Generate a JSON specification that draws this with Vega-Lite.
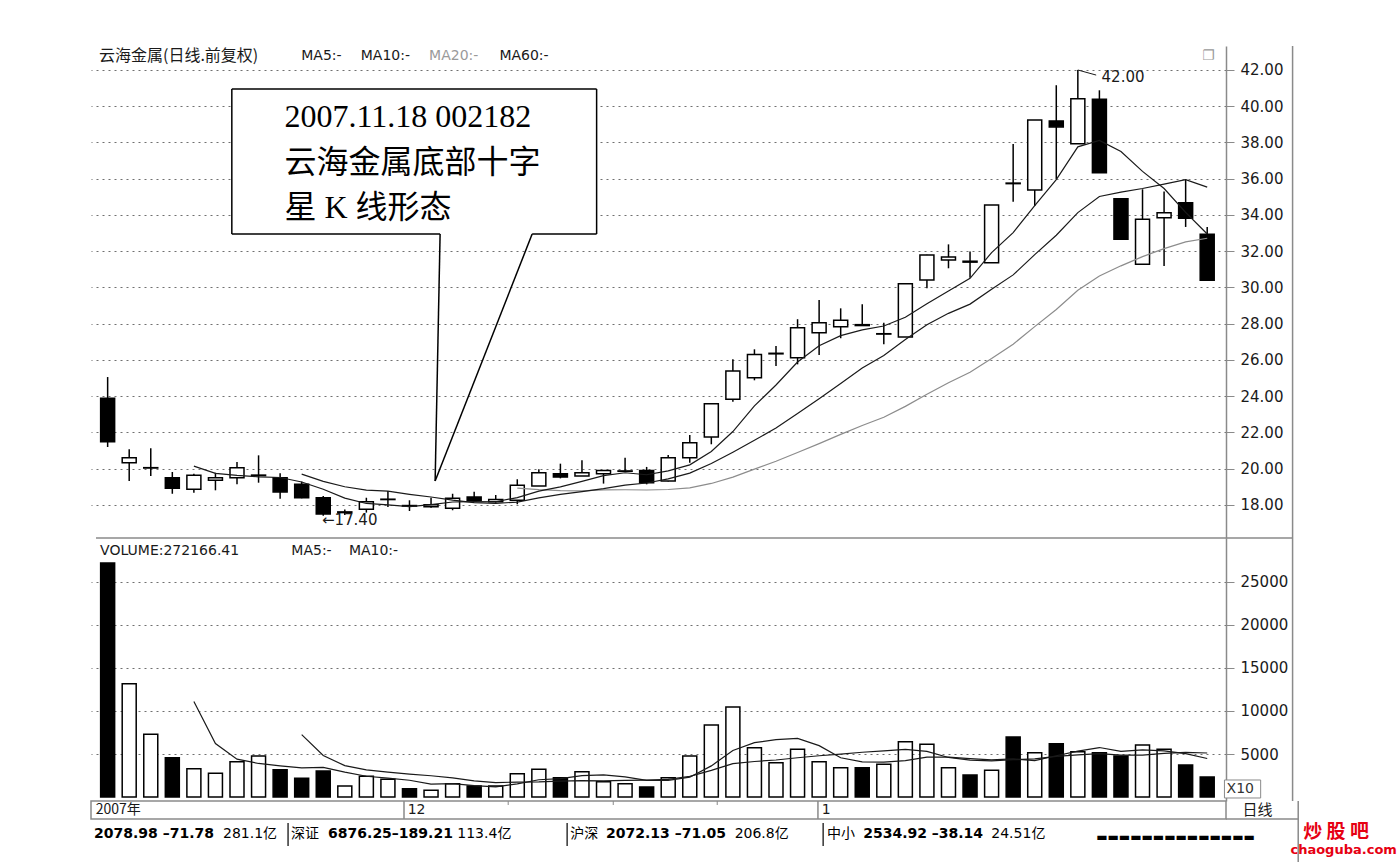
{
"$schema": "https://vega.github.io/schema/vega-lite/v6.json",
"background": "white",
"padding": {"left": 90, "top": 45, "right": 0, "bottom": 0},
"spacing": 0,
"bounds": "flush",
"config": {"view": {"stroke": null}, "text": {"font": "DejaVu Sans"}},
"datasets": {
"k": [
{"day":0,"open":23.89,"high":25.06,"low":21.20,"close":21.49,"volume":27217},
{"day":1,"open":20.33,"high":21.07,"low":19.32,"close":20.61,"volume":13178},
{"day":2,"open":20.04,"high":21.13,"low":19.60,"close":20.06,"volume":7287},
{"day":3,"open":19.51,"high":19.82,"low":18.62,"close":18.92,"volume":4574},
{"day":4,"open":18.87,"high":19.73,"low":18.68,"close":19.64,"volume":3295},
{"day":5,"open":19.36,"high":19.78,"low":18.81,"close":19.51,"volume":2752},
{"day":6,"open":19.51,"high":20.37,"low":19.14,"close":20.06,"volume":4109},
{"day":7,"open":19.62,"high":20.74,"low":19.23,"close":19.65,"volume":4767},
{"day":8,"open":19.51,"high":19.75,"low":18.35,"close":18.72,"volume":3178},
{"day":9,"open":19.14,"high":19.29,"low":18.37,"close":18.40,"volume":2170},
{"day":10,"open":18.40,"high":18.50,"low":17.40,"close":17.50,"volume":3023},
{"day":11,"open":17.58,"high":17.75,"low":17.45,"close":17.62,"volume":1279},
{"day":12,"open":17.76,"high":18.40,"low":17.58,"close":18.18,"volume":2403},
{"day":13,"open":18.30,"high":18.77,"low":17.89,"close":18.32,"volume":2054},
{"day":14,"open":17.97,"high":18.26,"low":17.67,"close":17.94,"volume":969},
{"day":15,"open":17.90,"high":18.40,"low":17.85,"close":18.02,"volume":775},
{"day":16,"open":17.82,"high":18.62,"low":17.71,"close":18.37,"volume":1550},
{"day":17,"open":18.44,"high":18.73,"low":18.18,"close":18.26,"volume":1279},
{"day":18,"open":18.18,"high":18.55,"low":18.13,"close":18.31,"volume":1279},
{"day":19,"open":18.26,"high":19.42,"low":18.04,"close":19.09,"volume":2713},
{"day":20,"open":19.05,"high":19.97,"low":19.05,"close":19.78,"volume":3217},
{"day":21,"open":19.73,"high":20.28,"low":19.47,"close":19.54,"volume":2248},
{"day":22,"open":19.60,"high":20.47,"low":19.60,"close":19.78,"volume":2946},
{"day":23,"open":19.73,"high":19.91,"low":19.18,"close":19.91,"volume":1783},
{"day":24,"open":19.86,"high":20.61,"low":19.86,"close":19.88,"volume":1550},
{"day":25,"open":19.91,"high":20.10,"low":19.14,"close":19.23,"volume":1163},
{"day":26,"open":19.32,"high":20.76,"low":19.30,"close":20.61,"volume":2248},
{"day":27,"open":20.61,"high":21.86,"low":20.33,"close":21.44,"volume":4767},
{"day":28,"open":21.75,"high":23.59,"low":21.35,"close":23.59,"volume":8372},
{"day":29,"open":23.83,"high":26.04,"low":23.70,"close":25.39,"volume":10465},
{"day":30,"open":25.02,"high":26.59,"low":24.88,"close":26.31,"volume":5736},
{"day":31,"open":26.34,"high":26.77,"low":25.67,"close":26.37,"volume":3992},
{"day":32,"open":26.13,"high":28.25,"low":25.76,"close":27.78,"volume":5543},
{"day":33,"open":27.51,"high":29.31,"low":26.28,"close":28.06,"volume":4109},
{"day":34,"open":27.84,"high":28.85,"low":27.20,"close":28.19,"volume":3411},
{"day":35,"open":27.95,"high":29.07,"low":27.90,"close":27.90,"volume":3411},
{"day":36,"open":27.43,"high":28.06,"low":26.87,"close":27.45,"volume":3798},
{"day":37,"open":27.27,"high":30.21,"low":27.27,"close":30.21,"volume":6434},
{"day":38,"open":30.41,"high":31.80,"low":29.96,"close":31.79,"volume":6124},
{"day":39,"open":31.52,"high":32.38,"low":31.06,"close":31.68,"volume":3411},
{"day":40,"open":31.45,"high":31.98,"low":30.54,"close":31.40,"volume":2558},
{"day":41,"open":31.37,"high":34.55,"low":31.37,"close":34.55,"volume":3101},
{"day":42,"open":35.76,"high":37.92,"low":34.73,"close":35.73,"volume":6977},
{"day":43,"open":35.38,"high":39.24,"low":34.50,"close":39.24,"volume":5155},
{"day":44,"open":39.19,"high":41.16,"low":35.97,"close":38.86,"volume":6202},
{"day":45,"open":37.93,"high":42.00,"low":37.93,"close":40.42,"volume":5271},
{"day":46,"open":40.38,"high":40.88,"low":36.33,"close":36.33,"volume":5155},
{"day":47,"open":34.90,"high":34.90,"low":32.66,"close":32.66,"volume":4767},
{"day":48,"open":31.28,"high":35.42,"low":31.28,"close":33.76,"volume":6047},
{"day":49,"open":33.85,"high":35.29,"low":31.19,"close":34.13,"volume":5543},
{"day":50,"open":34.68,"high":35.97,"low":33.34,"close":33.82,"volume":3721},
{"day":51,"open":32.94,"high":33.34,"low":30.40,"close":30.40,"volume":2326}
],
"one": [{}]
},
"vconcat": [
{
"width": 1135, "height": 492,
"layer": [
{"data": {"name": "k"}, "mark": {"type": "rule", "color": "black", "strokeWidth": 1.5},
 "encoding": {
  "x": {"field": "day", "type": "quantitative", "scale": {"domain": [-0.54, 51.64], "nice": false, "zero": false}, "axis": null},
  "y": {"field": "low", "type": "quantitative", "scale": {"domain": [16.179, 43.324], "nice": false, "zero": false},
   "axis": {"orient": "right", "title": null, "tickCount": 500, "values": [18,20,22,24,26,28,30,32,34,36,38,40,42],
    "format": ".2f",
    "labelOverlap": false, "labelFlush": false, "labelFont": "DejaVu Sans", "labelFontSize": 15, "labelColor": "#1a1a1a", "labelPadding": 6,
    "domainColor": "#8a8a8a", "domainWidth": 1.5, "tickColor": "#8a8a8a", "tickWidth": 1, "tickSize": 8,
    "grid": true, "gridDash": [2, 4], "gridWidth": 1, "gridColor": "#707070", "gridOpacity": 1}},
  "y2": {"field": "high"}}},
{"data": {"name": "k"}, "mark": {"type": "bar", "width": 14, "stroke": "black", "strokeWidth": 1.5},
 "encoding": {
  "x": {"field": "day", "type": "quantitative", "axis": null},
  "y": {"field": "open", "type": "quantitative", "title": null},
  "y2": {"field": "close"},
  "fill": {"condition": {"test": "datum.close < datum.open", "value": "black"}, "value": "white"}}},
{"data": {"name": "k"},
 "transform": [{"window": [{"op": "mean", "field": "close", "as": "ma20"}, {"op": "count", "as": "n20"}], "frame": [-19, 0], "sort": [{"field": "day"}]}, {"filter": "datum.n20 == 20"}],
 "mark": {"type": "line", "color": "#8c8c8c", "strokeWidth": 1.2},
 "encoding": {"x": {"field": "day", "type": "quantitative", "axis": null}, "y": {"field": "ma20", "type": "quantitative", "title": null}}},
{"data": {"name": "k"},
 "transform": [{"window": [{"op": "mean", "field": "close", "as": "ma10"}, {"op": "count", "as": "n10"}], "frame": [-9, 0], "sort": [{"field": "day"}]}, {"filter": "datum.n10 == 10"}],
 "mark": {"type": "line", "color": "#1a1a1a", "strokeWidth": 1.2},
 "encoding": {"x": {"field": "day", "type": "quantitative", "axis": null}, "y": {"field": "ma10", "type": "quantitative", "title": null}}},
{"data": {"name": "k"},
 "transform": [{"window": [{"op": "mean", "field": "close", "as": "ma5"}, {"op": "count", "as": "n5"}], "frame": [-4, 0], "sort": [{"field": "day"}]}, {"filter": "datum.n5 == 5"}],
 "mark": {"type": "line", "color": "#1a1a1a", "strokeWidth": 1.2},
 "encoding": {"x": {"field": "day", "type": "quantitative", "axis": null}, "y": {"field": "ma5", "type": "quantitative", "title": null}}},
{"data": {"name": "one"}, "mark": {"type": "text", "text": "←17.40", "align": "left", "baseline": "middle", "fontSize": 15, "color": "#1a1a1a"},
 "encoding": {"x": {"datum": 9.94, "type": "quantitative", "axis": null}, "y": {"datum": 17.17, "type": "quantitative", "title": null}}},
{"data": {"name": "one"}, "mark": {"type": "rule", "color": "#1a1a1a", "strokeWidth": 1},
 "encoding": {"x": {"datum": 45, "type": "quantitative", "axis": null}, "y": {"datum": 42.0, "type": "quantitative", "title": null}, "x2": {"datum": 45.85}, "y2": {"datum": 41.72}}},
{"data": {"name": "one"}, "mark": {"type": "text", "text": "42.00", "align": "left", "baseline": "middle", "fontSize": 15, "color": "#1a1a1a"},
 "encoding": {"x": {"datum": 46.1, "type": "quantitative", "axis": null}, "y": {"datum": 41.62, "type": "quantitative", "title": null}}},
{"data": {"name": "one"}, "mark": {"type": "text", "text": "云海金属(日线.前复权)", "align": "left", "baseline": "middle", "font": "Noto Sans CJK SC", "fontSize": 16, "color": "#1a1a1a"},
 "encoding": {"x": {"datum": -0.4, "type": "quantitative", "axis": null}, "y": {"datum": 42.77, "type": "quantitative", "title": null}}},
{"data": {"name": "one"}, "mark": {"type": "text", "text": "MA5:-", "align": "left", "baseline": "middle", "fontSize": 14, "color": "#1a1a1a"},
 "encoding": {"x": {"datum": 8.98, "type": "quantitative", "axis": null}, "y": {"datum": 42.77, "type": "quantitative", "title": null}}},
{"data": {"name": "one"}, "mark": {"type": "text", "text": "MA10:-", "align": "left", "baseline": "middle", "fontSize": 14, "color": "#1a1a1a"},
 "encoding": {"x": {"datum": 11.74, "type": "quantitative", "axis": null}, "y": {"datum": 42.77, "type": "quantitative", "title": null}}},
{"data": {"name": "one"}, "mark": {"type": "text", "text": "MA20:-", "align": "left", "baseline": "middle", "fontSize": 14, "color": "#9a9a9a"},
 "encoding": {"x": {"datum": 14.91, "type": "quantitative", "axis": null}, "y": {"datum": 42.77, "type": "quantitative", "title": null}}},
{"data": {"name": "one"}, "mark": {"type": "text", "text": "MA60:-", "align": "left", "baseline": "middle", "fontSize": 14, "color": "#1a1a1a"},
 "encoding": {"x": {"datum": 18.17, "type": "quantitative", "axis": null}, "y": {"datum": 42.77, "type": "quantitative", "title": null}}},
{"data": {"name": "one"}, "mark": {"type": "text", "text": "❐", "align": "center", "baseline": "middle", "fontSize": 14, "color": "#9a9a9a"},
 "encoding": {"x": {"datum": 51.06, "type": "quantitative", "axis": null}, "y": {"datum": 42.77, "type": "quantitative", "title": null}}},
{"data": {"name": "one"}, "mark": {"type": "rect", "fill": "white"},
 "encoding": {"x": {"datum": 5.76, "type": "quantitative", "axis": null}, "x2": {"datum": 22.68}, "y": {"datum": 40.95, "type": "quantitative", "title": null}, "y2": {"datum": 32.95}}},
{"data": {"name": "one"}, "mark": {"type": "rule", "color": "black", "strokeWidth": 1.5},
 "encoding": {"x": {"datum": 5.76, "type": "quantitative", "axis": null}, "x2": {"datum": 22.68}, "y": {"datum": 40.95, "type": "quantitative", "title": null}, "y2": {"datum": 40.95}}},
{"data": {"name": "one"}, "mark": {"type": "rule", "color": "black", "strokeWidth": 1.5},
 "encoding": {"x": {"datum": 22.68, "type": "quantitative", "axis": null}, "x2": {"datum": 22.68}, "y": {"datum": 40.95, "type": "quantitative", "title": null}, "y2": {"datum": 32.95}}},
{"data": {"name": "one"}, "mark": {"type": "rule", "color": "black", "strokeWidth": 1.5},
 "encoding": {"x": {"datum": 22.68, "type": "quantitative", "axis": null}, "x2": {"datum": 19.69}, "y": {"datum": 32.95, "type": "quantitative", "title": null}, "y2": {"datum": 32.95}}},
{"data": {"name": "one"}, "mark": {"type": "rule", "color": "black", "strokeWidth": 1.5},
 "encoding": {"x": {"datum": 19.69, "type": "quantitative", "axis": null}, "x2": {"datum": 15.19}, "y": {"datum": 32.95, "type": "quantitative", "title": null}, "y2": {"datum": 19.32}}},
{"data": {"name": "one"}, "mark": {"type": "rule", "color": "black", "strokeWidth": 1.5},
 "encoding": {"x": {"datum": 15.42, "type": "quantitative", "axis": null}, "x2": {"datum": 15.19}, "y": {"datum": 32.95, "type": "quantitative", "title": null}, "y2": {"datum": 19.32}}},
{"data": {"name": "one"}, "mark": {"type": "rule", "color": "black", "strokeWidth": 1.5},
 "encoding": {"x": {"datum": 15.42, "type": "quantitative", "axis": null}, "x2": {"datum": 5.76}, "y": {"datum": 32.95, "type": "quantitative", "title": null}, "y2": {"datum": 32.95}}},
{"data": {"name": "one"}, "mark": {"type": "rule", "color": "black", "strokeWidth": 1.5},
 "encoding": {"x": {"datum": 5.76, "type": "quantitative", "axis": null}, "x2": {"datum": 5.76}, "y": {"datum": 32.95, "type": "quantitative", "title": null}, "y2": {"datum": 40.95}}},
{"data": {"name": "one"}, "mark": {"type": "text", "text": "2007.11.18 002182", "align": "left", "baseline": "middle", "font": "Liberation Serif, Noto Sans CJK SC", "fontSize": 32, "color": "black"},
 "encoding": {"x": {"datum": 8.2, "type": "quantitative", "axis": null}, "y": {"datum": 39.41, "type": "quantitative", "title": null}}},
{"data": {"name": "one"}, "mark": {"type": "text", "text": "云海金属底部十字", "align": "left", "baseline": "middle", "font": "Liberation Serif, Noto Sans CJK SC", "fontSize": 32, "color": "black"},
 "encoding": {"x": {"datum": 8.2, "type": "quantitative", "axis": null}, "y": {"datum": 36.87, "type": "quantitative", "title": null}}},
{"data": {"name": "one"}, "mark": {"type": "text", "text": "星 K 线形态", "align": "left", "baseline": "middle", "font": "Liberation Serif, Noto Sans CJK SC", "fontSize": 32, "color": "black"},
 "encoding": {"x": {"datum": 8.2, "type": "quantitative", "axis": null}, "y": {"datum": 34.39, "type": "quantitative", "title": null}}},
{"data": {"name": "one"}, "mark": {"type": "rule", "color": "#8a8a8a", "strokeWidth": 1.5},
 "encoding": {"x": {"datum": -0.54, "type": "quantitative", "axis": null}, "x2": {"datum": 54.96}, "y": {"datum": 16.179, "type": "quantitative", "title": null}, "y2": {"datum": 16.179}}},
{"data": {"name": "one"}, "mark": {"type": "rule", "color": "#8a8a8a", "strokeWidth": 1.5},
 "encoding": {"x": {"datum": 54.96, "type": "quantitative", "axis": null}}}
]
},
{
"width": 1135, "height": 263,
"layer": [
{"data": {"name": "k"}, "mark": {"type": "bar", "width": 14, "stroke": "black", "strokeWidth": 1.5},
 "encoding": {
  "x": {"field": "day", "type": "quantitative", "scale": {"domain": [-0.54, 51.64], "nice": false, "zero": false}, "axis": null},
  "y": {"field": "volume", "type": "quantitative", "scale": {"domain": [-465, 30116], "nice": false, "zero": false},
   "axis": {"orient": "right", "title": null, "tickCount": 500, "values": [5000,10000,15000,20000,25000],
    "format": "d",
    "labelOverlap": false, "labelFlush": false, "labelFont": "DejaVu Sans", "labelFontSize": 15, "labelColor": "#1a1a1a", "labelPadding": 6,
    "domainColor": "#8a8a8a", "domainWidth": 1.5, "tickColor": "#8a8a8a", "tickWidth": 1, "tickSize": 8,
    "grid": true, "gridDash": [2, 4], "gridWidth": 1, "gridColor": "#707070", "gridOpacity": 1}},
  "y2": {"datum": 0},
  "fill": {"condition": {"test": "datum.close < datum.open", "value": "black"}, "value": "white"}}},
{"data": {"name": "k"},
 "transform": [{"window": [{"op": "mean", "field": "volume", "as": "vma10"}, {"op": "count", "as": "n10"}], "frame": [-9, 0], "sort": [{"field": "day"}]}, {"filter": "datum.n10 == 10"}],
 "mark": {"type": "line", "color": "#1a1a1a", "strokeWidth": 1.2},
 "encoding": {"x": {"field": "day", "type": "quantitative", "axis": null}, "y": {"field": "vma10", "type": "quantitative", "title": null}}},
{"data": {"name": "k"},
 "transform": [{"window": [{"op": "mean", "field": "volume", "as": "vma5"}, {"op": "count", "as": "n5"}], "frame": [-4, 0], "sort": [{"field": "day"}]}, {"filter": "datum.n5 == 5"}],
 "mark": {"type": "line", "color": "#1a1a1a", "strokeWidth": 1.2},
 "encoding": {"x": {"field": "day", "type": "quantitative", "axis": null}, "y": {"field": "vma5", "type": "quantitative", "title": null}}},
{"data": {"name": "one"}, "mark": {"type": "text", "text": "VOLUME:272166.41", "align": "left", "baseline": "middle", "fontSize": 14, "color": "#1a1a1a"},
 "encoding": {"x": {"datum": -0.35, "type": "quantitative", "axis": null}, "y": {"datum": 28605, "type": "quantitative", "title": null}}},
{"data": {"name": "one"}, "mark": {"type": "text", "text": "MA5:-", "align": "left", "baseline": "middle", "fontSize": 14, "color": "#1a1a1a"},
 "encoding": {"x": {"datum": 8.52, "type": "quantitative", "axis": null}, "y": {"datum": 28605, "type": "quantitative", "title": null}}},
{"data": {"name": "one"}, "mark": {"type": "text", "text": "MA10:-", "align": "left", "baseline": "middle", "fontSize": 14, "color": "#1a1a1a"},
 "encoding": {"x": {"datum": 11.19, "type": "quantitative", "axis": null}, "y": {"datum": 28605, "type": "quantitative", "title": null}}},
{"data": {"name": "one"}, "mark": {"type": "rect", "fill": "white", "stroke": "#8a8a8a", "strokeWidth": 1},
 "encoding": {"x": {"datum": 51.8, "type": "quantitative", "axis": null}, "x2": {"datum": 53.48}, "y": {"datum": -116, "type": "quantitative", "title": null}, "y2": {"datum": 1977}}},
{"data": {"name": "one"}, "mark": {"type": "text", "text": "X10", "align": "left", "baseline": "middle", "fontSize": 14, "color": "#333333"},
 "encoding": {"x": {"datum": 51.9, "type": "quantitative", "axis": null}, "y": {"datum": 930, "type": "quantitative", "title": null}}},
{"data": {"name": "one"}, "mark": {"type": "rule", "color": "#8a8a8a", "strokeWidth": 1.5},
 "encoding": {"x": {"datum": 54.96, "type": "quantitative", "axis": null}}}
]
},
{
"width": 1135, "height": 18,
"view": {"stroke": "#8a8a8a", "strokeWidth": 1.5},
"layer": [
{"data": {"name": "one"}, "mark": {"type": "rule", "color": "#8a8a8a", "strokeWidth": 1.5},
 "encoding": {"x": {"datum": 13.85, "type": "quantitative", "scale": {"domain": [-0.54, 51.64], "nice": false, "zero": false}, "axis": null}}},
{"data": {"name": "one"}, "mark": {"type": "rule", "color": "#8a8a8a", "strokeWidth": 1.5},
 "encoding": {"x": {"datum": 32.88, "type": "quantitative", "axis": null}}},
{"data": {"name": "one"}, "mark": {"type": "rule", "color": "#8a8a8a", "strokeWidth": 1.5},
 "encoding": {"x": {"datum": 54.96, "type": "quantitative", "axis": null}}},
{"data": {"name": "one"}, "mark": {"type": "rule", "color": "#8a8a8a", "strokeWidth": 1},
 "encoding": {"x": {"datum": 18.64, "type": "quantitative", "axis": null}, "y": {"datum": 18, "type": "quantitative", "scale": {"domain": [0, 18], "nice": false, "zero": false}, "axis": null}, "y2": {"datum": 14}}},
{"data": {"name": "one"}, "mark": {"type": "rule", "color": "#8a8a8a", "strokeWidth": 1},
 "encoding": {"x": {"datum": 23.47, "type": "quantitative", "axis": null}, "y": {"datum": 18, "type": "quantitative", "axis": null}, "y2": {"datum": 14}}},
{"data": {"name": "one"}, "mark": {"type": "rule", "color": "#8a8a8a", "strokeWidth": 1},
 "encoding": {"x": {"datum": 28.25, "type": "quantitative", "axis": null}, "y": {"datum": 18, "type": "quantitative", "axis": null}, "y2": {"datum": 14}}},
{"data": {"name": "one"}, "mark": {"type": "rule", "color": "#8a8a8a", "strokeWidth": 1.5},
 "encoding": {"x": {"datum": 51.64, "type": "quantitative", "axis": null}, "x2": {"datum": 54.96}, "y": {"datum": 0, "type": "quantitative", "axis": null}, "y2": {"datum": 0}}},
{"data": {"name": "one"}, "mark": {"type": "text", "text": "2007年", "align": "left", "baseline": "middle", "font": "Noto Sans CJK SC", "fontSize": 14, "color": "#1a1a1a"},
 "encoding": {"x": {"datum": -0.32, "type": "quantitative", "axis": null}, "y": {"datum": 9, "type": "quantitative", "axis": null}}},
{"data": {"name": "one"}, "mark": {"type": "text", "text": "12", "align": "left", "baseline": "middle", "fontSize": 14, "color": "#1a1a1a"},
 "encoding": {"x": {"datum": 14.02, "type": "quantitative", "axis": null}, "y": {"datum": 9, "type": "quantitative", "axis": null}}},
{"data": {"name": "one"}, "mark": {"type": "text", "text": "1", "align": "left", "baseline": "middle", "fontSize": 14, "color": "#1a1a1a"},
 "encoding": {"x": {"datum": 33.05, "type": "quantitative", "axis": null}, "y": {"datum": 9, "type": "quantitative", "axis": null}}},
{"data": {"name": "one"}, "mark": {"type": "text", "text": "日线", "align": "left", "baseline": "middle", "font": "Noto Sans CJK SC", "fontSize": 15, "color": "#1a1a1a"},
 "encoding": {"x": {"datum": 52.4, "type": "quantitative", "axis": null}, "y": {"datum": 9, "type": "quantitative", "axis": null}}}
]
},
{
"width": 1135, "height": 44,
"layer": [
{"data": {"name": "one"}, "mark": {"type": "rule", "color": "#8a8a8a", "strokeWidth": 1.5},
 "encoding": {"x": {"datum": 54.96, "type": "quantitative", "scale": {"domain": [-0.54, 51.64], "nice": false, "zero": false}, "axis": null}}},
{"data": {"name": "one"}, "mark": {"type": "text", "text": "2078.98 –71.78", "align": "left", "baseline": "middle", "fontSize": 14, "fontWeight": "bold", "color": "black"},
 "encoding": {"x": {"datum": -0.4, "type": "quantitative", "axis": null}, "y": {"datum": 29, "type": "quantitative", "scale": {"domain": [0, 44], "nice": false, "zero": false}, "axis": null}}},
{"data": {"name": "one"}, "mark": {"type": "text", "text": "281.1亿", "align": "left", "baseline": "middle", "font": "DejaVu Sans, Noto Sans CJK SC", "fontSize": 14, "color": "black"},
 "encoding": {"x": {"datum": 5.53, "type": "quantitative", "axis": null}, "y": {"datum": 29, "type": "quantitative", "axis": null}}},
{"data": {"name": "one"}, "mark": {"type": "rule", "color": "#333333", "strokeWidth": 1.5},
 "encoding": {"x": {"datum": 8.52, "type": "quantitative", "axis": null}, "y": {"datum": 40, "type": "quantitative", "axis": null}, "y2": {"datum": 17}}},
{"data": {"name": "one"}, "mark": {"type": "text", "text": "深证", "align": "left", "baseline": "middle", "font": "Noto Sans CJK SC", "fontSize": 14, "color": "black"},
 "encoding": {"x": {"datum": 8.66, "type": "quantitative", "axis": null}, "y": {"datum": 29, "type": "quantitative", "axis": null}}},
{"data": {"name": "one"}, "mark": {"type": "text", "text": "6876.25–189.21", "align": "left", "baseline": "middle", "fontSize": 14, "fontWeight": "bold", "color": "black"},
 "encoding": {"x": {"datum": 10.36, "type": "quantitative", "axis": null}, "y": {"datum": 29, "type": "quantitative", "axis": null}}},
{"data": {"name": "one"}, "mark": {"type": "text", "text": "113.4亿", "align": "left", "baseline": "middle", "font": "DejaVu Sans, Noto Sans CJK SC", "fontSize": 14, "color": "black"},
 "encoding": {"x": {"datum": 16.3, "type": "quantitative", "axis": null}, "y": {"datum": 29, "type": "quantitative", "axis": null}}},
{"data": {"name": "one"}, "mark": {"type": "rule", "color": "#333333", "strokeWidth": 1.5},
 "encoding": {"x": {"datum": 21.35, "type": "quantitative", "axis": null}, "y": {"datum": 40, "type": "quantitative", "axis": null}, "y2": {"datum": 17}}},
{"data": {"name": "one"}, "mark": {"type": "text", "text": "沪深", "align": "left", "baseline": "middle", "font": "Noto Sans CJK SC", "fontSize": 14, "color": "black"},
 "encoding": {"x": {"datum": 21.49, "type": "quantitative", "axis": null}, "y": {"datum": 29, "type": "quantitative", "axis": null}}},
{"data": {"name": "one"}, "mark": {"type": "text", "text": "2072.13 –71.05", "align": "left", "baseline": "middle", "fontSize": 14, "fontWeight": "bold", "color": "black"},
 "encoding": {"x": {"datum": 23.14, "type": "quantitative", "axis": null}, "y": {"datum": 29, "type": "quantitative", "axis": null}}},
{"data": {"name": "one"}, "mark": {"type": "text", "text": "206.8亿", "align": "left", "baseline": "middle", "font": "DejaVu Sans, Noto Sans CJK SC", "fontSize": 14, "color": "black"},
 "encoding": {"x": {"datum": 29.05, "type": "quantitative", "axis": null}, "y": {"datum": 29, "type": "quantitative", "axis": null}}},
{"data": {"name": "one"}, "mark": {"type": "rule", "color": "#333333", "strokeWidth": 1.5},
 "encoding": {"x": {"datum": 33.12, "type": "quantitative", "axis": null}, "y": {"datum": 40, "type": "quantitative", "axis": null}, "y2": {"datum": 17}}},
{"data": {"name": "one"}, "mark": {"type": "text", "text": "中小", "align": "left", "baseline": "middle", "font": "Noto Sans CJK SC", "fontSize": 14, "color": "black"},
 "encoding": {"x": {"datum": 33.3, "type": "quantitative", "axis": null}, "y": {"datum": 29, "type": "quantitative", "axis": null}}},
{"data": {"name": "one"}, "mark": {"type": "text", "text": "2534.92 –38.14", "align": "left", "baseline": "middle", "fontSize": 14, "fontWeight": "bold", "color": "black"},
 "encoding": {"x": {"datum": 34.96, "type": "quantitative", "axis": null}, "y": {"datum": 29, "type": "quantitative", "axis": null}}},
{"data": {"name": "one"}, "mark": {"type": "text", "text": "24.51亿", "align": "left", "baseline": "middle", "font": "DejaVu Sans, Noto Sans CJK SC", "fontSize": 14, "color": "black"},
 "encoding": {"x": {"datum": 40.85, "type": "quantitative", "axis": null}, "y": {"datum": 29, "type": "quantitative", "axis": null}}},
{"data": {"name": "one"}, "mark": {"type": "text", "text": "▬▬▬▬▬▬▬▬▬▬▬▬▬▬", "align": "left", "baseline": "middle", "fontSize": 12, "color": "black"},
 "encoding": {"x": {"datum": 45.67, "type": "quantitative", "axis": null}, "y": {"datum": 26, "type": "quantitative", "axis": null}}},
{"data": {"name": "one"}, "mark": {"type": "text", "text": "炒 股 吧", "align": "center", "baseline": "middle", "font": "Noto Sans CJK SC", "fontSize": 19, "fontWeight": "bold", "color": "#e60012"},
 "encoding": {"x": {"datum": 56.7, "type": "quantitative", "axis": null}, "y": {"datum": 31, "type": "quantitative", "axis": null}}},
{"data": {"name": "one"}, "mark": {"type": "text", "text": "chaoguba.com", "align": "center", "baseline": "middle", "fontSize": 13, "fontWeight": "bold", "color": "#e60012"},
 "encoding": {"x": {"datum": 57.05, "type": "quantitative", "axis": null}, "y": {"datum": 13, "type": "quantitative", "axis": null}}}
]
}
]
}
